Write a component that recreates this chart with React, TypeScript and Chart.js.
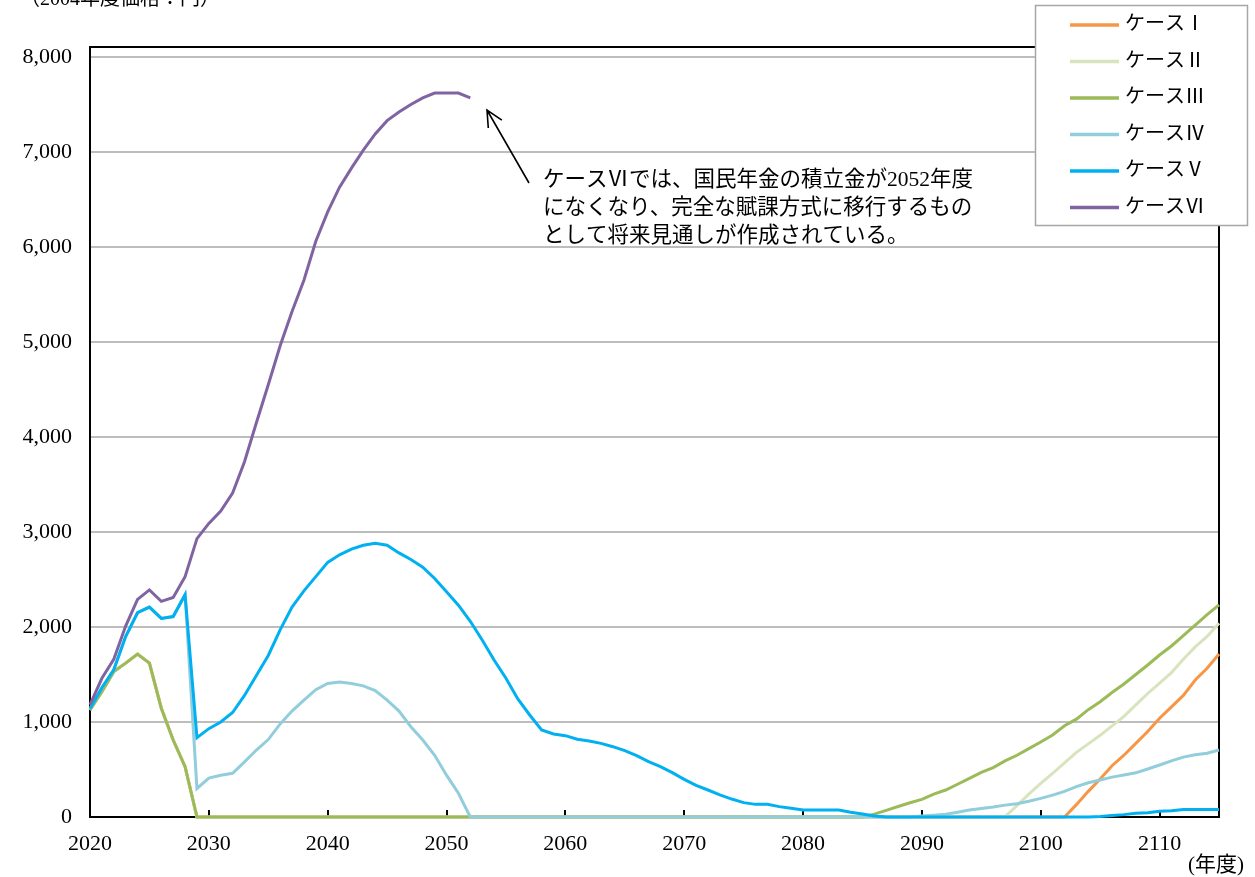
import React, { useEffect, useRef } from "react";
import { Chart, registerables } from "chart.js";

Chart.register(...registerables);

// ---- data ----
const START_YEAR = 2020;
const END_YEAR = 2115;
const years: number[] = Array.from({ length: END_YEAR - START_YEAR + 1 }, (_, i) => START_YEAR + i);

const labels = ["ケースⅠ", "ケースⅡ", "ケースⅢ", "ケースⅣ", "ケースⅤ", "ケースⅥ"];
const colors = ["#F79646", "#D7E4BD", "#9BBB59", "#92CDDC", "#00B0F0", "#8064A2"];

const caseI = [
  1126, 1320, 1530, 1620, 1715, 1620, 1145, 810, 530, 0,
  0, 0, 0, 0, 0, 0, 0, 0, 0, 0,
  0, 0, 0, 0, 0, 0, 0, 0, 0, 0,
  0, 0, 0, 0, 0, 0, 0, 0, 0, 0,
  0, 0, 0, 0, 0, 0, 0, 0, 0, 0,
  0, 0, 0, 0, 0, 0, 0, 0, 0, 0,
  0, 0, 0, 0, 0, 0, 0, 0, 0, 0,
  0, 0, 0, 0, 0, 0, 0, 0, 0, 0,
  0, 0, 0, 130, 270, 400, 540, 650, 775, 900,
  1040, 1160, 1280, 1442, 1565, 1716,
];
const caseII = [
  1126, 1320, 1530, 1620, 1715, 1620, 1145, 810, 530, 0,
  0, 0, 0, 0, 0, 0, 0, 0, 0, 0,
  0, 0, 0, 0, 0, 0, 0, 0, 0, 0,
  0, 0, 0, 0, 0, 0, 0, 0, 0, 0,
  0, 0, 0, 0, 0, 0, 0, 0, 0, 0,
  0, 0, 0, 0, 0, 0, 0, 0, 0, 0,
  0, 0, 0, 0, 0, 0, 0, 0, 0, 0,
  0, 0, 0, 0, 0, 0, 0, 5, 120, 240,
  354, 460, 570, 680, 770, 860, 960, 1060, 1180, 1300,
  1410, 1520, 1660, 1790, 1900, 2039,
];
const caseIII = [
  1126, 1320, 1530, 1620, 1715, 1620, 1145, 810, 530, 0,
  0, 0, 0, 0, 0, 0, 0, 0, 0, 0,
  0, 0, 0, 0, 0, 0, 0, 0, 0, 0,
  0, 0, 0, 0, 0, 0, 0, 0, 0, 0,
  0, 0, 0, 0, 0, 0, 0, 0, 0, 0,
  0, 0, 0, 0, 0, 0, 0, 0, 0, 0,
  0, 0, 0, 0, 0, 0, 30, 70, 110, 150,
  186, 240, 284, 345, 407, 470, 520, 590, 650, 720,
  790, 863, 960, 1030, 1130, 1214, 1310, 1400, 1500, 1600,
  1705, 1800, 1910, 2020, 2130, 2232,
];
const caseIV = [
  1140, 1360, 1550, 1900, 2150, 2210, 2090, 2110, 2340, 300,
  410, 440, 460, 580, 705, 815, 980, 1115, 1230, 1340,
  1405, 1420, 1405, 1380, 1330, 1230, 1115, 950, 810, 650,
  440, 250, 0, 0, 0, 0, 0, 0, 0, 0,
  0, 0, 0, 0, 0, 0, 0, 0, 0, 0,
  0, 0, 0, 0, 0, 0, 0, 0, 0, 0,
  0, 0, 0, 0, 0, 0, 0, 0, 0, 0,
  10, 18, 28, 50, 74, 90, 105, 125, 140, 165,
  196, 230, 270, 320, 360, 390, 420, 442, 465, 505,
  547, 590, 630, 655, 672, 705,
];
const caseV = [
  1140, 1360, 1550, 1900, 2150, 2210, 2090, 2110, 2340, 835,
  930, 1000, 1100, 1280, 1490, 1700, 1970, 2210, 2380, 2530,
  2680, 2760, 2820, 2860, 2880, 2860, 2780, 2710, 2630, 2510,
  2370, 2230, 2060, 1863, 1653, 1460, 1242, 1074, 916, 874,
  856, 818, 800, 775, 740, 698, 646, 582, 530, 467,
  396, 333, 284, 232, 189, 151, 133, 133, 109, 91,
  74, 74, 74, 74, 49, 32, 11, 0, 0, 0,
  0, 0, 0, 0, 0, 0, 0, 0, 0, 0,
  0, 0, 0, 0, 0, 5, 15, 25, 40, 45,
  60, 65, 80, 80, 80, 80,
];
const caseVI = [
  1180, 1460, 1660, 2010, 2290, 2390, 2270, 2310, 2530, 2930,
  3090, 3220, 3410, 3740, 4150, 4550, 4960, 5320, 5650, 6060,
  6370, 6630, 6830, 7020, 7190, 7330, 7420, 7500, 7570, 7620,
  7620, 7620, 7570,
];
const series = [caseI, caseII, caseIII, caseIV, caseV, caseVI];

const yTicks = [0, 1000, 2000, 3000, 4000, 5000, 6000, 7000, 8000];
const xTicks = [2020, 2030, 2040, 2050, 2060, 2070, 2080, 2090, 2100, 2110];

const unitTitle = "（2004年度価格：円）";
const xUnit = "(年度)";
const noteLines = [
  "ケースⅥでは、国民年金の積立金が2052年度",
  "になくなり、完全な賦課方式に移行するもの",
  "として将来見通しが作成されている。",
];

const SERIF = '"Liberation Serif", "Noto Sans CJK JP", serif';

const decor = {
  id: "decor",
  beforeDatasetsDraw(chart: any) {
    const { ctx, chartArea: a, scales } = chart;
    ctx.save();
    ctx.strokeStyle = "#000";
    ctx.lineWidth = 2;
    xTicks.forEach((v) => {
      if (v <= START_YEAR) return;
      const px = Math.round(scales.x.getPixelForValue(v));
      ctx.beginPath();
      ctx.moveTo(px, a.bottom);
      ctx.lineTo(px, a.bottom - 7);
      ctx.stroke();
    });
    ctx.strokeRect(a.left, a.top, a.right - a.left, a.bottom - a.top);
    ctx.restore();
  },
  afterDraw(chart: any) {
    const { ctx } = chart;
    ctx.save();
    ctx.fillStyle = "#000";
    ctx.textAlign = "left";
    ctx.textBaseline = "middle";
    // unit title (top-left)
    ctx.font = `20px ${SERIF}`;
    ctx.fillText(unitTitle, 20, 0);
    // x unit
    ctx.font = `21px ${SERIF}`;
    ctx.fillText(xUnit, 1188, 865);
    // annotation
    ctx.font = `21.5px ${SERIF}`;
    noteLines.forEach((t, i) => ctx.fillText(t, 543, 180 + i * 28));
    // arrow
    const x1 = 529, y1 = 183, x2 = 487, y2 = 110;
    ctx.strokeStyle = "#000";
    ctx.lineWidth = 1.6;
    ctx.beginPath();
    ctx.moveTo(x1, y1);
    ctx.lineTo(x2, y2);
    const ang = Math.atan2(y2 - y1, x2 - x1);
    const hl = 18;
    ctx.moveTo(x2 - hl * Math.cos(ang - 0.45), y2 - hl * Math.sin(ang - 0.45));
    ctx.lineTo(x2, y2);
    ctx.lineTo(x2 - hl * Math.cos(ang + 0.45), y2 - hl * Math.sin(ang + 0.45));
    ctx.stroke();
    // legend
    ctx.fillStyle = "#fff";
    ctx.fillRect(1035, 5, 213, 221);
    ctx.strokeStyle = "#a6a6a6";
    ctx.lineWidth = 1.5;
    ctx.strokeRect(1035.5, 5.5, 212, 220);
    ctx.font = `20px ${SERIF}`;
    chart.data.datasets.forEach((ds: any, i: number) => {
      const y = 25 + i * 36.5;
      ctx.strokeStyle = ds.borderColor;
      ctx.lineWidth = 3.5;
      ctx.beginPath();
      ctx.moveTo(1070, y);
      ctx.lineTo(1119, y);
      ctx.stroke();
      ctx.fillStyle = "#000";
      ctx.fillText(ds.label, 1125, y);
    });
    ctx.restore();
  },
};

export default function App() {
  const ref = useRef<HTMLCanvasElement | null>(null);
  useEffect(() => {
    if (!ref.current) return;
    const datasets = series.map((vals, i) => ({
      label: labels[i],
      data: vals.map((v, j) => ({ x: years[j], y: v })),
      borderColor: colors[i],
      backgroundColor: colors[i],
      borderWidth: 3,
      pointRadius: 0,
      tension: 0,
      fill: false,
      clip: 6,
      order: 5 - i,
    }));
    const chart = new Chart(ref.current, {
      type: "line",
      data: { datasets },
      options: {
        animation: false,
        responsive: false,
        devicePixelRatio: 1,
        layout: { padding: { top: 47, right: 36, left: 0, bottom: 0 } },
        plugins: { legend: { display: false }, tooltip: { enabled: false } },
        scales: {
          x: {
            type: "linear",
            min: START_YEAR,
            max: END_YEAR,
            afterBuildTicks: (s: any) => {
              s.ticks = xTicks.map((v) => ({ value: v }));
            },
            afterFit: (s: any) => {
              s.height = 60;
            },
            ticks: {
              padding: 14,
              color: "#000",
              font: { family: SERIF, size: 22 },
              callback: (v: any) => String(v),
              maxRotation: 0,
              autoSkip: false,
            },
            grid: { display: false, drawTicks: false },
            border: { display: false },
          },
          y: {
            min: 0,
            max: 8105,
            afterBuildTicks: (s: any) => {
              s.ticks = yTicks.map((v) => ({ value: v }));
            },
            afterFit: (s: any) => {
              s.width = 90;
            },
            ticks: {
              padding: 18,
              color: "#000",
              font: { family: SERIF, size: 22 },
              callback: (v: any) => Number(v).toLocaleString("en-US"),
            },
            grid: {
              drawTicks: false,
              lineWidth: 2,
              color: (c: any) => (c.tick && c.tick.value === 0 ? "rgba(0,0,0,0)" : "#bdbdbd"),
            },
            border: { display: false },
          },
        },
      },
      plugins: [decor],
    } as any);
    return () => chart.destroy();
  }, []);
  return (
    <div style={{ position: "absolute", left: 0, top: 0, width: 1255, height: 877, background: "#fff" }}>
      <canvas ref={ref} width={1255} height={877} style={{ display: "block" }} />
    </div>
  );
}
